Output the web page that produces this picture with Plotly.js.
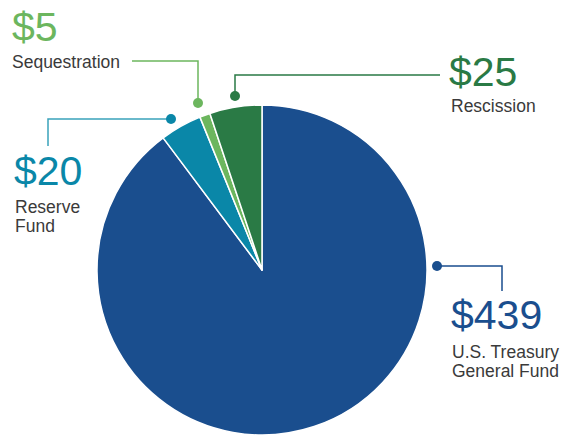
<!DOCTYPE html>
<html>
<head>
<meta charset="utf-8">
<script src="https://cdn.plot.ly/plotly-3.0.1.min.js"></script>
<style>html,body{margin:0;padding:0;background:#fff;}#chart{width:571px;height:436px;}</style>
</head>
<body>
<div id="chart"></div>
<script>
var categories = ["U.S. Treasury General Fund", "Reserve Fund", "Sequestration", "Rescission"];
var values = [439, 20, 5, 25];
var valueLabels = ["$439", "$20", "$5", "$25"];
var nameLines = [["U.S. Treasury", "General Fund"], ["Reserve", "Fund"], ["Sequestration"], ["Rescission"]];
var colors = ["#1a4e8e", "#0a87a8", "#6cb65e", "#2a7a45"];
var lineColors = ["#1a4e8e", "#3aa2ba", "#6cb65e", "#2a7a45"];

var W = 571, H = 436;
var cx = 262, cy = 270, r = 165;

var pie = {
  type: 'pie',
  values: values,
  labels: categories,
  sort: false,
  direction: 'clockwise',
  rotation: 0,
  textinfo: 'none',
  hoverinfo: 'label+value',
  marker: {colors: colors, line: {color: '#ffffff', width: 1.5}},
  domain: {x: [(cx - r) / W, (cx + r) / W], y: [(H - cy - r) / H, (H - cy + r) / H]},
  showlegend: false
};

// callout geometry (pixel space): [dot, corner, end]
var callouts = [
  {dot: [437, 266], corner: [502, 266], end: [502, 291]},
  {dot: [171, 119], corner: [48, 119], end: [48, 146]},
  {dot: [198, 103], corner: [198, 61], end: [132, 61]},
  {dot: [235, 96], corner: [235, 75], end: [440, 75]}
];
var valuePos = [[449, 315], [12, 171], [10, 27], [447, 72]];
var namePos = [[450, 351.5], [13, 206.5], [10, 61.5], [449, 106]];

var shapes = [], annotations = [];
var font = "'Liberation Sans', Arial, Helvetica, sans-serif";
for (var i = 0; i < categories.length; i++) {
  var c = callouts[i];
  shapes.push({type: 'path', xref: 'x', yref: 'y',
    path: 'M' + c.dot[0] + ',' + c.dot[1] + ' L' + c.corner[0] + ',' + c.corner[1] + ' L' + c.end[0] + ',' + c.end[1],
    line: {color: lineColors[i], width: 1.5}});
  shapes.push({type: 'circle', xref: 'x', yref: 'y',
    x0: c.dot[0] - 5, x1: c.dot[0] + 5, y0: c.dot[1] - 5, y1: c.dot[1] + 5,
    fillcolor: colors[i], line: {width: 0}});
  annotations.push({xref: 'x', yref: 'y', x: valuePos[i][0], y: valuePos[i][1],
    xanchor: 'left', yanchor: 'middle', showarrow: false, text: valueLabels[i],
    font: {family: font, size: 41, color: colors[i]}});
  for (var j = 0; j < nameLines[i].length; j++) {
    annotations.push({xref: 'x', yref: 'y', x: namePos[i][0], y: namePos[i][1] + j * 19,
      xanchor: 'left', yanchor: 'middle', showarrow: false, text: nameLines[i][j],
      font: {family: font, size: 17.5, color: '#3a3a3a'}});
  }
}

var layout = {
  width: W, height: H,
  margin: {l: 0, r: 0, t: 0, b: 0},
  paper_bgcolor: '#ffffff', plot_bgcolor: 'rgba(0,0,0,0)',
  xaxis: {range: [0, W], visible: false, fixedrange: true},
  yaxis: {range: [H, 0], visible: false, fixedrange: true},
  shapes: shapes,
  annotations: annotations,
  showlegend: false
};

Plotly.newPlot('chart', [pie], layout, {displayModeBar: false, staticPlot: true});
</script>
</body>
</html>
